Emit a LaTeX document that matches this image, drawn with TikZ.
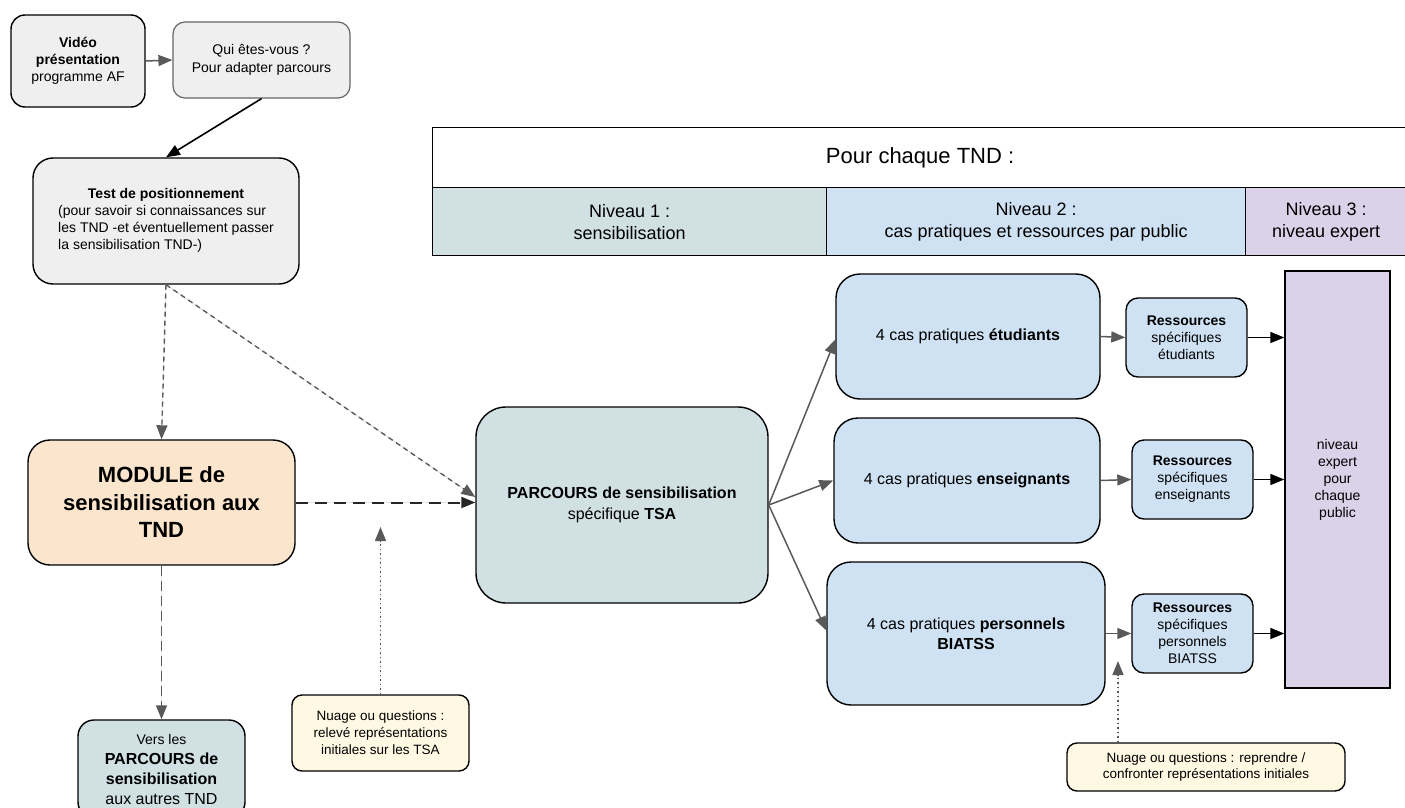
\documentclass[tikz,border=0pt]{standalone}
\usepackage{fontspec}
\setmainfont{Liberation Sans}
\usetikzlibrary{arrows.meta}
\definecolor{grayfill}{HTML}{EFEFEF}
\definecolor{modfill}{HTML}{FCE5CD}
\definecolor{tealfill}{HTML}{D0E0E3}
\definecolor{bluefill}{HTML}{CFE2F3}
\definecolor{purpfill}{HTML}{D9D2E9}
\definecolor{notefill}{HTML}{FFF8E3}
\definecolor{arrgray}{HTML}{595959}
\definecolor{bordgray}{HTML}{666666}
\newcommand\myfs[2]{\fontsize{#1}{#2}\selectfont}
\begin{document}
\begin{tikzpicture}[x=1pt,y=-1pt,
  box/.style={draw=black, line width=1.4pt, align=center, inner sep=2pt},
  cell/.style={draw=black, line width=1.2pt, align=center, inner sep=2pt},
  arrowtip/.style={-{Triangle[length=14pt,width=11pt]}},
  garrow/.style={arrowtip, draw=arrgray, fill=arrgray, line width=1.5pt},
  barrow/.style={arrowtip, draw=black, fill=black, line width=1.6pt},
  gdash/.style={garrow, dash pattern=on 5pt off 4pt, line width=1.4pt},
  ldash/.style={garrow, dash pattern=on 10pt off 5pt, line width=1.4pt},
  bdash/.style={arrowtip, draw=black!85, fill=black!85, dash pattern=on 12pt off 7pt, line width=2pt},
  gdot/.style={garrow, dash pattern=on 1.5pt off 3pt, line width=1.4pt},
]
\useasboundingbox (0,0) rectangle (1405,808);

% left column
\node[box, fill=grayfill, rounded corners=14pt, minimum width=134pt, minimum height=92pt, font=\myfs{14}{17}] (video) at (78,61)
  {\textbf{Vidéo}\\\textbf{présentation}\\programme AF};
\node[box, draw=bordgray, line width=1.2pt, fill=grayfill, rounded corners=12pt, minimum width=177pt, minimum height=76pt, font=\myfs{14}{18}] (qui) at (261.5,60)
  {Qui êtes-vous ?\\Pour adapter parcours};
\node[box, fill=grayfill, rounded corners=20pt, minimum width=266pt, minimum height=126pt, font=\myfs{14}{17}] (test) at (166,221)
  {\begin{tabular}{@{}l@{}}\multicolumn{1}{@{}c@{}}{\textbf{Test de positionnement}}\\(pour savoir si connaissances sur\\les TND -et éventuellement passer\\la sensibilisation TND-)\end{tabular}};
\node[box, fill=modfill, rounded corners=22pt, minimum width=267pt, minimum height=125pt, font=\bfseries\myfs{22}{27.5}] (module) at (161.5,502.5)
  {MODULE de\\sensibilisation aux\\TND};
\node[box, fill=tealfill, rounded corners=16pt, minimum width=167pt, minimum height=98pt, font=\myfs{16}{20}] (vers) at (161.5,769)
  {{\myfs{14}{20}Vers les}\\\textbf{PARCOURS de}\\\textbf{sensibilisation}\\aux autres TND};
\node[box, fill=notefill, rounded corners=10pt, minimum width=177pt, minimum height=76pt, font=\myfs{13.5}{17}] (note1) at (380.5,733)
  {Nuage ou questions :\\relevé représentations\\initiales sur les TSA};
\node[box, fill=tealfill, rounded corners=30pt, minimum width=292pt, minimum height=196pt, font=\myfs{16}{21}] (parcours) at (622,505)
  {\textbf{PARCOURS de sensibilisation}\\spécifique \textbf{TSA}};

% table header
\node[cell, fill=white, minimum width=978pt, minimum height=60pt, font=\myfs{22}{26}, anchor=north west] (head) at (432,127)
  {\hspace*{-3pt}Pour chaque TND :};
\node[cell, fill=tealfill, minimum width=394pt, minimum height=68pt, font=\myfs{18}{22}, anchor=north west] (niv1) at (432,187)
  {Niveau 1 :\\sensibilisation};
\node[cell, fill=bluefill, minimum width=419pt, minimum height=68pt, font=\myfs{18}{22}, anchor=north west] (niv2) at (826,187)
  {Niveau 2 :\\cas pratiques et ressources par public};
\node[cell, fill=purpfill, minimum width=165pt, minimum height=68pt, font=\myfs{18}{22}, anchor=north west, inner xsep=0pt] (niv3) at (1245,187)
  {\hspace*{-4pt}Niveau 3 :\\\hspace*{-4pt}niveau expert};

% level 2 boxes
\node[box, fill=bluefill, rounded corners=24pt, minimum width=264pt, minimum height=125pt, font=\myfs{16}{20}] (cas1) at (968,336.5)
  {4 cas pratiques \textbf{étudiants}};
\node[box, fill=bluefill, rounded corners=24pt, minimum width=266pt, minimum height=125pt, font=\myfs{16}{20}] (cas2) at (967,480.5)
  {4 cas pratiques \textbf{enseignants}};
\node[box, fill=bluefill, rounded corners=24pt, minimum width=278pt, minimum height=143pt, font=\myfs{16}{20}] (cas3) at (966,633.5)
  {4 cas pratiques \textbf{personnels}\\\textbf{BIATSS}};
\node[box, fill=bluefill, rounded corners=12pt, minimum width=121pt, minimum height=79pt, font=\myfs{14}{17}] (res1) at (1186.5,337.5)
  {\textbf{Ressources}\\spécifiques\\étudiants};
\node[box, fill=bluefill, rounded corners=12pt, minimum width=121pt, minimum height=79pt, font=\myfs{14}{17}] (res2) at (1192.5,479.5)
  {\textbf{Ressources}\\spécifiques\\enseignants};
\node[box, fill=bluefill, rounded corners=12pt, minimum width=121pt, minimum height=79pt, font=\myfs{14}{17}] (res3) at (1192.5,633.5)
  {\textbf{Ressources}\\spécifiques\\personnels\\BIATSS};
\node[box, fill=purpfill, minimum width=105pt, minimum height=417pt, font=\myfs{14}{17}] (expert) at (1337.5,479.5)
  {niveau\\expert\\pour\\chaque\\public};
\node[box, fill=notefill, rounded corners=10pt, minimum width=278pt, minimum height=48pt, font=\myfs{13.5}{17}] (note2) at (1206,767)
  {Nuage ou questions : reprendre /\\confronter représentations initiales};

% connectors
\draw[garrow] (video.east) -- (qui.west);
\draw[barrow] (qui.south) -- (test.north);
\draw[gdash] (test.south) -- (module.north);
\draw[gdash] (test.south) -- ([yshift=8pt]parcours.west);
\draw[bdash] (module.east) -- (parcours.west |- module.east);
\draw[ldash] (module.south) -- (vers.north);
\coordinate (n1tip) at (380.5,527);
\draw[gdot] (note1.north) -- (n1tip);
\draw[garrow] (parcours.east) -- ([yshift=-3pt]cas1.west);
\draw[garrow] (parcours.east) -- (cas2.west);
\draw[garrow] (parcours.east) -- ([yshift=3pt]cas3.west);
\draw[garrow] (cas1.east) -- (res1.west);
\draw[garrow] (cas2.east) -- (res2.west);
\draw[garrow] (cas3.east) -- (res3.west);
\draw[barrow] (res1.east) -- (expert.west |- res1.east);
\draw[barrow] (res2.east) -- (expert.west |- res2.east);
\draw[barrow] (res3.east) -- (expert.west |- res3.east);
\coordinate (n2tip) at (1118,661);
\draw[gdot] (n2tip |- note2.north) -- (n2tip);
\end{tikzpicture}
\end{document}
